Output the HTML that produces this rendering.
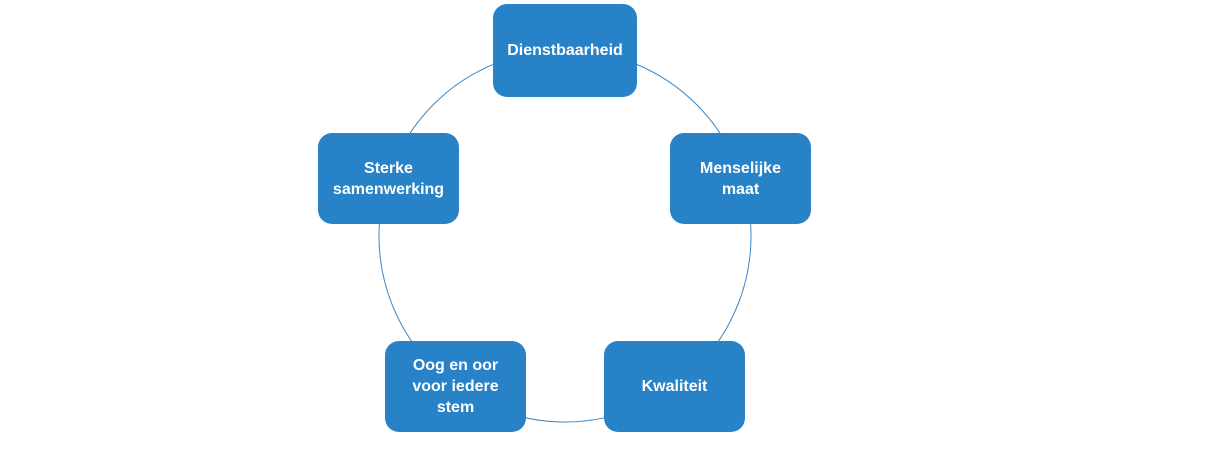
<!DOCTYPE html>
<html><head><style>
body{margin:0;width:1216px;height:461px;background:#fff;position:relative;overflow:hidden;font-family:"Liberation Sans",sans-serif}
.b{position:absolute;background:#2882c8;border-radius:14px;color:#fff;font-weight:bold;font-size:16px;line-height:21px;display:flex;align-items:center;justify-content:center;text-align:center}
</style></head><body>
<svg width="1216" height="461" style="position:absolute;left:0;top:0"><circle cx="565" cy="236" r="186" fill="none" stroke="#3a86c4" stroke-width="1"/></svg>
<div class="b" style="left:493px;top:4px;width:144px;height:93px">Dienstbaarheid</div>
<div class="b" style="left:670px;top:133px;width:141px;height:91px">Menselijke<br>maat</div>
<div class="b" style="left:604px;top:341px;width:141px;height:91px">Kwaliteit</div>
<div class="b" style="left:385px;top:341px;width:141px;height:91px">Oog en oor<br>voor iedere<br>stem</div>
<div class="b" style="left:318px;top:133px;width:141px;height:91px">Sterke<br>samenwerking</div>
</body></html>
